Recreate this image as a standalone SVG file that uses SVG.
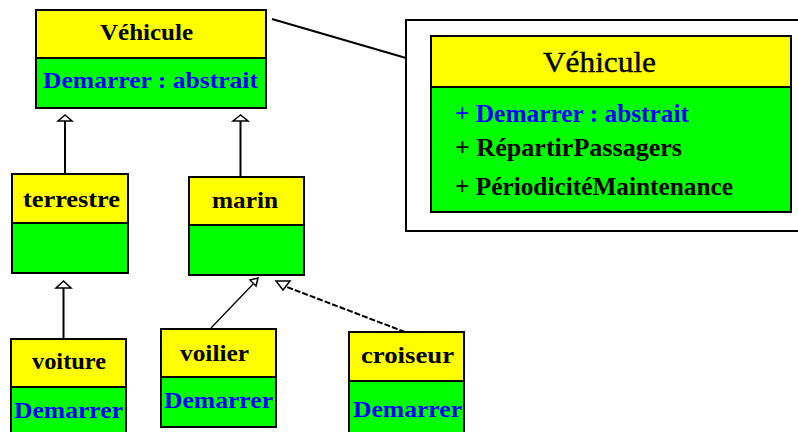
<svg xmlns="http://www.w3.org/2000/svg" width="798" height="432" viewBox="0 0 798 432">
<style>
.y{fill:#FFFF00;stroke:#000;stroke-width:2}
.g{fill:#00FF00;stroke:#000;stroke-width:2}
.t{font-family:"Liberation Serif","Times New Roman",serif;font-weight:bold;font-size:24px;fill:#000}
.b{fill:#0000FF}
.m{font-family:"Liberation Serif","Times New Roman",serif;font-weight:bold;font-size:25px}
.c{stroke:#000;stroke-width:2;fill:none}
.h{fill:#fff;stroke:#000;stroke-width:1.5}
</style>
<rect x="0" y="0" width="798" height="432" fill="#fff"/>
<g id="connectors">
<line class="c" x1="272" y1="19" x2="406" y2="58"/>
<line class="c" x1="65" y1="121" x2="65" y2="174"/>
<polygon class="h" points="65,115 58,121 72,121"/>
<line class="c" x1="240.5" y1="121" x2="240.5" y2="177"/>
<polygon class="h" points="240.5,115 233,121 248,121"/>
<line class="c" x1="63.5" y1="288" x2="63.5" y2="339"/>
<polygon class="h" points="63.5,281 56,288 71,288"/>
<line class="c" style="stroke-width:1.3" x1="211" y1="328" x2="256" y2="281"/>
<polygon class="h" points="258,278 250,280 256,286"/>
<line class="c" style="stroke-dasharray:6 2" x1="405" y1="332" x2="287" y2="287"/>
<polygon class="h" points="276,281 290,281 283,290"/>
</g>
<g id="vehicule">
<rect class="y" x="36" y="10" width="230" height="48"/>
<rect class="g" x="36" y="58" width="230" height="50"/>
<text class="t" x="100" y="40" textLength="93" lengthAdjust="spacingAndGlyphs">Véhicule</text>
<text class="t b" x="43" y="88" textLength="215" lengthAdjust="spacingAndGlyphs">Demarrer : abstrait</text>
</g>
<g id="terrestre">
<rect class="y" x="12" y="174" width="116" height="49"/>
<rect class="g" x="12" y="223" width="116" height="50"/>
<text class="t" x="23" y="207" textLength="97" lengthAdjust="spacingAndGlyphs">terrestre</text>
</g>
<g id="marin">
<rect class="y" x="189" y="177" width="115" height="48"/>
<rect class="g" x="189" y="225" width="115" height="50"/>
<text class="t" x="212" y="208" textLength="66" lengthAdjust="spacingAndGlyphs">marin</text>
</g>
<g id="voiture">
<rect class="y" x="11" y="339" width="115" height="48"/>
<rect class="g" x="11" y="387" width="115" height="55"/>
<text class="t" x="32" y="369" textLength="74" lengthAdjust="spacingAndGlyphs">voiture</text>
<text class="t b" x="14" y="418" textLength="109" lengthAdjust="spacingAndGlyphs">Demarrer</text>
</g>
<g id="voilier">
<rect class="y" x="161" y="329" width="115" height="48"/>
<rect class="g" x="161" y="377" width="115" height="50"/>
<text class="t" x="180" y="361" textLength="69" lengthAdjust="spacingAndGlyphs">voilier</text>
<text class="t b" x="164" y="408" textLength="109" lengthAdjust="spacingAndGlyphs">Demarrer</text>
</g>
<g id="croiseur">
<rect class="y" x="349" y="332" width="115" height="49"/>
<rect class="g" x="349" y="381" width="115" height="60"/>
<text class="t" x="361" y="363" textLength="93" lengthAdjust="spacingAndGlyphs">croiseur</text>
<text class="t b" x="353" y="417" textLength="109" lengthAdjust="spacingAndGlyphs">Demarrer</text>
</g>
<g id="detail">
<rect x="406" y="20" width="400" height="211" fill="#fff" stroke="#000" stroke-width="2"/>
<rect class="y" x="431" y="36" width="360" height="51"/>
<rect class="g" x="431" y="87" width="360" height="125"/>
<text x="543" y="72" font-family="'Liberation Serif','Times New Roman',serif" font-size="30" stroke="#000" stroke-width="0.4" textLength="113" lengthAdjust="spacingAndGlyphs">Véhicule</text>
<text class="m b" x="455" y="122" textLength="234" lengthAdjust="spacingAndGlyphs">+ Demarrer : abstrait</text>
<text class="m" x="455" y="156" textLength="227" lengthAdjust="spacingAndGlyphs">+ RépartirPassagers</text>
<text class="m" x="455" y="195" textLength="278" lengthAdjust="spacingAndGlyphs">+ PériodicitéMaintenance</text>
</g>
</svg>
